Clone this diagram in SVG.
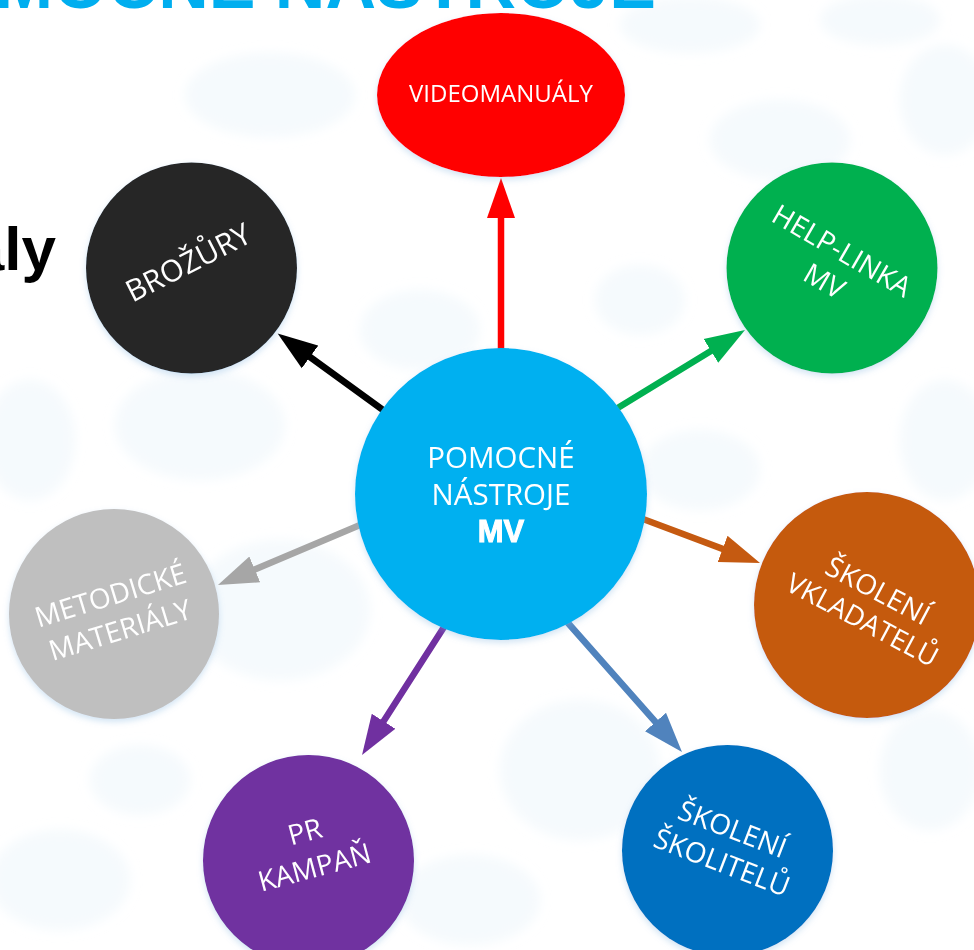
<svg xmlns="http://www.w3.org/2000/svg" width="974" height="950" viewBox="0 0 974 950">
<style>
.lbl{font-family:"Open Sans","Noto Sans","DejaVu Sans",sans-serif;fill:#fff;font-size:28px;text-anchor:middle}
.conn{fill:none;stroke-width:6.5;stroke-linecap:round}
.blob{fill:#e6f2fa;opacity:0.4}
.node{filter:url(#sh)}
</style>
<defs>
<filter id="blur" x="-30%" y="-30%" width="160%" height="160%"><feGaussianBlur stdDeviation="6"/></filter>
<filter id="sh" x="-20%" y="-20%" width="140%" height="140%"><feDropShadow dx="0" dy="3" stdDeviation="3" flood-color="#7fb4e0" flood-opacity="0.35"/></filter>
<marker id="mRed" markerUnits="userSpaceOnUse" viewBox="0 -15 41 30" markerWidth="41" markerHeight="30" refX="0" refY="0" orient="auto"><path d="M0,-14 L40,0 L0,14 z" fill="#ff0000"/></marker>
<marker id="mBlack" markerUnits="userSpaceOnUse" viewBox="0 -15 41 30" markerWidth="41" markerHeight="30" refX="0" refY="0" orient="auto"><path d="M0,-14 L40,0 L0,14 z" fill="#000000"/></marker>
<marker id="mGreen" markerUnits="userSpaceOnUse" viewBox="0 -15 41 30" markerWidth="41" markerHeight="30" refX="0" refY="0" orient="auto"><path d="M0,-14 L40,0 L0,14 z" fill="#00b050"/></marker>
<marker id="mBrown" markerUnits="userSpaceOnUse" viewBox="0 -15 41 30" markerWidth="41" markerHeight="30" refX="0" refY="0" orient="auto"><path d="M0,-14 L40,0 L0,14 z" fill="#c55a11"/></marker>
<marker id="mSteel" markerUnits="userSpaceOnUse" viewBox="0 -15 41 30" markerWidth="41" markerHeight="30" refX="0" refY="0" orient="auto"><path d="M0,-14 L40,0 L0,14 z" fill="#5083bd"/></marker>
<marker id="mPurple" markerUnits="userSpaceOnUse" viewBox="0 -15 41 30" markerWidth="41" markerHeight="30" refX="0" refY="0" orient="auto"><path d="M0,-14 L40,0 L0,14 z" fill="#7030a0"/></marker>
<marker id="mGrey" markerUnits="userSpaceOnUse" viewBox="0 -15 41 30" markerWidth="41" markerHeight="30" refX="0" refY="0" orient="auto"><path d="M0,-14 L40,0 L0,14 z" fill="#a6a6a6"/></marker>
</defs>
<rect x="0" y="0" width="974" height="950" fill="#ffffff"/>
<g id="background" filter="url(#blur)">
<ellipse class="blob" cx="270" cy="95" rx="85" ry="42"/>
<ellipse class="blob" cx="690" cy="25" rx="70" ry="28"/>
<ellipse class="blob" cx="780" cy="140" rx="70" ry="40"/>
<ellipse class="blob" cx="945" cy="100" rx="45" ry="55"/>
<ellipse class="blob" cx="880" cy="20" rx="60" ry="25"/>
<ellipse class="blob" cx="640" cy="300" rx="45" ry="35"/>
<ellipse class="blob" cx="420" cy="330" rx="60" ry="40"/>
<ellipse class="blob" cx="200" cy="425" rx="85" ry="55"/>
<ellipse class="blob" cx="30" cy="440" rx="45" ry="60"/>
<ellipse class="blob" cx="280" cy="610" rx="90" ry="70"/>
<ellipse class="blob" cx="700" cy="470" rx="60" ry="40"/>
<ellipse class="blob" cx="945" cy="440" rx="45" ry="60"/>
<ellipse class="blob" cx="580" cy="770" rx="80" ry="70"/>
<ellipse class="blob" cx="470" cy="900" rx="70" ry="45"/>
<ellipse class="blob" cx="60" cy="880" rx="70" ry="50"/>
<ellipse class="blob" cx="930" cy="770" rx="50" ry="60"/>
<ellipse class="blob" cx="140" cy="780" rx="50" ry="35"/>
</g>
<g id="title">
<text x="656" y="8" text-anchor="end" font-family="'Liberation Sans',Arial,sans-serif" font-weight="bold" font-size="70" fill="#00aeef">MOCNÉ NÁSTROJE</text>
<text x="56" y="270" text-anchor="end" font-family="'Liberation Sans',Arial,sans-serif" font-weight="bold" font-size="62" fill="#000">aly</text>
</g>
<g id="connectors">
<line class="conn" stroke="#ff0000" x1="501" y1="352" x2="501" y2="218" marker-end="url(#mRed)"/>
<line class="conn" stroke="#000000" x1="383" y1="410" x2="310" y2="357" marker-end="url(#mBlack)"/>
<line class="conn" stroke="#00b050" x1="616" y1="409" x2="710.9" y2="350.9" marker-end="url(#mGreen)"/>
<line class="conn" stroke="#c55a11" x1="643" y1="519" x2="722.6" y2="548.9" marker-end="url(#mBrown)"/>
<line class="conn" stroke="#5083bd" x1="568" y1="623" x2="655.5" y2="722" marker-end="url(#mSteel)"/>
<line class="conn" stroke="#7030a0" x1="444" y1="627" x2="383.6" y2="721.3" marker-end="url(#mPurple)"/>
<line class="conn" stroke="#a6a6a6" x1="360" y1="525" x2="254.8" y2="569.4" marker-end="url(#mGrey)"/>
</g>
<g id="node-center">
<circle class="node" cx="501" cy="494" r="146" fill="#00b0f0"/>
<text class="lbl" x="501" y="468" style="font-size:29.5px">POMOCNÉ</text>
<text class="lbl" x="501" y="505" style="font-size:29.5px">NÁSTROJE</text>
<text x="501" y="542" text-anchor="middle" font-family="'Liberation Sans',Arial,sans-serif" font-weight="bold" font-size="31" fill="#fff" stroke="#fff" stroke-width="1">MV</text>
</g>
<g id="node-videomanualy">
<ellipse class="node" cx="501" cy="95" rx="124" ry="82" fill="#ff0000"/>
<text class="lbl" x="501" y="102" style="font-size:24px">VIDEOMANUÁLY</text>
</g>
<g id="node-brozury">
<circle class="node" cx="191.5" cy="268" r="105.5" fill="#262626"/>
<text class="lbl" transform="translate(193,272) rotate(-27)" x="0" y="0" style="font-size:30px">BROŽŮRY</text>
</g>
<g id="node-helplinka">
<circle class="node" cx="832" cy="268" r="105.5" fill="#00b050"/>
<g transform="translate(832,268) rotate(30)">
<text class="lbl" x="0" y="-10">HELP-LINKA</text>
<text class="lbl" x="0" y="25">MV</text>
</g>
</g>
<g id="node-vkladatelu">
<circle class="node" cx="867" cy="605" r="113" fill="#c55a11"/>
<g transform="translate(867,605) rotate(28)">
<text class="lbl" x="3" y="-8">ŠKOLENÍ</text>
<text class="lbl" x="3" y="25" style="font-size:27.5px">VKLADATELŮ</text>
</g>
</g>
<g id="node-skolitelu">
<circle class="node" cx="727.5" cy="850.5" r="105.5" fill="#0070c0"/>
<g transform="translate(727.5,850.5) rotate(21)">
<text class="lbl" x="-3" y="-12">ŠKOLENÍ</text>
<text class="lbl" x="-1" y="23">ŠKOLITELŮ</text>
</g>
</g>
<g id="node-prkampan">
<circle class="node" cx="308.5" cy="860.5" r="105.5" fill="#7030a0"/>
<g transform="translate(308.5,860.5) rotate(-15)">
<text class="lbl" x="4" y="-19">PR</text>
<text class="lbl" x="4" y="18">KAMPAŇ</text>
</g>
</g>
<g id="node-metodicke">
<circle class="node" cx="114" cy="614" r="105" fill="#bfbfbf"/>
<g transform="translate(114,614) rotate(-17)">
<text class="lbl" x="2" y="-9">METODICKÉ</text>
<text class="lbl" x="1" y="27">MATERIÁLY</text>
</g>
</g>
</svg>
